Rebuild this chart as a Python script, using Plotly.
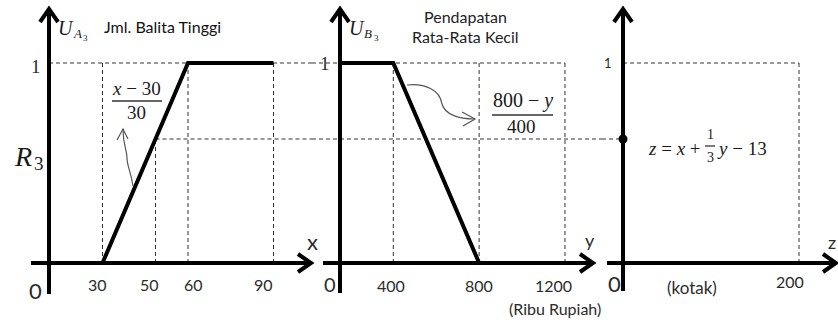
import plotly.graph_objects as go

W, H = 838, 320

# ---------------- data ----------------
A_X = [30, 60, 90]          # Jml. Balita Tinggi membership breakpoints
A_U = [0, 1, 1]
B_Y = [0, 400, 800]         # Pendapatan Rata-Rata Kecil breakpoints
B_U = [1, 1, 0]
R3 = 0.62                   # firing strength
X_GRID = [30, 60, 90]
Y_GRID = [400, 800, 1200]
Z_GRID = [200]
X_TICKS = [30, 50, 60, 90]
Y_TICKS = [400, 800, 1200]
Z_TICKS = [200]

# ---------------- geometry (pixels) ----------------
Y0_PX, Y1_PX = 263, 63
YS = Y0_PX - Y1_PX
Y_RANGE = [(Y0_PX - H) / YS, Y0_PX / YS]

PANELS = {
    "x":  dict(dom=(0, 312),   v0=30,  p0=102.5, s=2.85,   axis_px=49),
    "x2": dict(dom=(312, 602), v0=400, p0=393.3, s=0.2146, axis_px=340),
    "x3": dict(dom=(602, 838), v0=0,   p0=623,   s=0.88,   axis_px=623),
}


def to_data(key, px):
    p = PANELS[key]
    return p["v0"] + (px - p["p0"]) / p["s"]


for k, p in PANELS.items():
    p["range"] = [to_data(k, p["dom"][0]), to_data(k, p["dom"][1])]
    p["axis"] = to_data(k, p["axis_px"])

fig = go.Figure()

DASH = dict(color="#333", width=1, dash="4px,3px")
THICK = dict(color="black", width=4)


def add_line(xs, ys, xa, line):
    fig.add_trace(go.Scatter(x=xs, y=ys, mode="lines", line=line, xaxis=xa, yaxis="y",
                             hoverinfo="skip", showlegend=False))


# ---- panel 1 ----
p1 = PANELS["x"]
for xv in X_GRID:
    add_line([xv, xv], [0, 1], "x", DASH)
xr = A_X[0] + (A_X[1] - A_X[0]) * R3
add_line([xr, xr], [0, R3], "x", DASH)
add_line([p1["axis"], p1["range"][1]], [1, 1], "x", DASH)
add_line([xr, p1["range"][1]], [R3, R3], "x", DASH)
add_line(A_X, A_U, "x", THICK)

# ---- panel 2 ----
p2 = PANELS["x2"]
for yv in Y_GRID:
    add_line([yv, yv], [0, 1], "x2", DASH)
add_line([p2["range"][0], Y_GRID[-1]], [1, 1], "x2", DASH)
add_line([p2["range"][0], p2["range"][1]], [R3, R3], "x2", DASH)
add_line([max(v, p2["axis"]) for v in B_Y], B_U, "x2", THICK)

# ---- panel 3 ----
p3 = PANELS["x3"]
for zv in Z_GRID:
    add_line([zv, zv], [0, 1], "x3", DASH)
add_line([0, Z_GRID[-1]], [1, 1], "x3", DASH)
add_line([p3["range"][0], 0], [R3, R3], "x3", DASH)
fig.add_trace(go.Scatter(x=[0], y=[R3], mode="markers", marker=dict(color="black", size=9),
                         xaxis="x3", yaxis="y", hoverinfo="skip", showlegend=False))


# ---------------- decorations (pixel -> paper) ----------------
def PX(x):
    return x / W


def PY(y):
    return 1 - y / H


def pth(pts):
    return "M " + " L ".join(f"{PX(x):.5f},{PY(y):.5f}" for x, y in pts)


shapes = []


def sh_path(d, width=4, color="black"):
    shapes.append(dict(type="path", path=d, xref="paper", yref="paper",
                       line=dict(color=color, width=width), layer="above"))


# axes with open arrowheads
AXES = [
    dict(vx=49, vtop=9, vbot=294, hl=31, hr=311),
    dict(vx=340, vtop=9, vbot=293, hl=323, hr=593),
    dict(vx=623, vtop=9, vbot=291, hl=607, hr=836),
]
for a in AXES:
    sh_path(pth([(a["vx"], a["vbot"]), (a["vx"], a["vtop"])]))
    sh_path(pth([(a["vx"] - 9, a["vtop"] + 13), (a["vx"], a["vtop"]), (a["vx"] + 9, a["vtop"] + 13)]))
    sh_path(pth([(a["hl"], Y0_PX), (a["hr"], Y0_PX)]))
    sh_path(pth([(a["hr"] - 13, Y0_PX - 9), (a["hr"], Y0_PX), (a["hr"] - 13, Y0_PX + 9)]))

# fraction bars
for (x0, x1, y) in [(112, 162, 101), (492, 553, 115), (705, 715, 146)]:
    shapes.append(dict(type="line", xref="paper", yref="paper", x0=PX(x0), x1=PX(x1),
                       y0=PY(y), y1=PY(y), line=dict(color="#333", width=1.3)))


def c(x, y):
    return f"{PX(x):.5f},{PY(y):.5f}"


# curved hand arrows
sh_path(f"M {c(133, 186)} C {c(131, 172)} {c(127, 166)} {c(127, 158)} "
        f"C {c(127, 150)} {c(123, 145)} {c(123, 129)}", width=1.2, color="#555")
sh_path(pth([(117, 140), (123, 129), (128, 139)]), width=1.2, color="#555")
sh_path(f"M {c(407, 85)} C {c(425, 83)} {c(440, 90)} {c(442, 104)} "
        f"C {c(445, 115)} {c(460, 119)} {c(474, 119)}", width=1.2, color="#555")
sh_path(pth([(462, 112), (475, 119), (463, 126)]), width=1.2, color="#555")

fig.update_layout(shapes=shapes)

# ---------------- text ----------------
SANS = "Lato"
SERIF = "Liberation Serif"
TXT = "#2b2b2b"
MATH = "#1a1a1a"
ann = []


def t(x, y, text, size=15, family=SANS, color=TXT, xanchor="center", pad=1):
    ann.append(dict(x=PX(x), y=PY(y), xref="paper", yref="paper", text=text, showarrow=False,
                    xanchor=xanchor, yanchor="middle", borderpad=pad,
                    font=dict(size=size, family=family, color=color)))


def tick(xa, v, label, y_px, dx, size=16):
    ann.append(dict(x=v, y=(Y0_PX - y_px) / YS, xref=xa, yref="y", text=label, showarrow=False,
                    xshift=dx, xanchor="center", yanchor="middle",
                    font=dict(size=size, family=SANS, color=TXT)))


for v, dx in zip(X_TICKS, [-5, -10, 5, -10]):
    tick("x", v, str(v), 284, dx)
for v, dx in zip(Y_TICKS, [-2, 0, -11]):
    tick("x2", v, str(v), 285, dx)
for v, dx in zip(Z_TICKS, [-9]):
    tick("x3", v, str(v), 281, dx)

# origins
t(35, 290, "0", size=22)
t(330, 284, "0", size=20)
t(614, 283, "0", size=22)

# axis names
t(312, 241, "x", size=22)
t(590, 240, "y", size=18)
t(832, 242, "z", size=18)

# membership labels  (U with subscript A / B and sub-subscript 3)
for (ux, letter) in [(57, "A"), (348, "B")]:
    t(ux, 28, "<i>U</i>", size=20, family=SERIF, color=MATH, xanchor="left", pad=0)
    t(ux + 15, 34, f"<i>{letter}</i>", size=13, family=SERIF, color=MATH, xanchor="left", pad=0)
    t(ux + 25, 38, "3", size=9, family=SERIF, color=MATH, xanchor="left", pad=0)
t(162, 26, "Jml. Balita Tinggi", size=16, color="#111")
t(465, 17, "Pendapatan", size=16, color="#222")
t(465, 37, "Rata-Rata Kecil", size=16, color="#222")

# ones
t(36, 66, "1", size=19, family=SERIF)
t(325, 64, "1", size=19, family=SERIF)
t(608, 63, "1", size=13)

# R3
t(13, 156, "<i>R</i>", size=28, family=SERIF, color=MATH, xanchor="left", pad=0)
t(33, 163, "3", size=19, family=SERIF, color=MATH, xanchor="left", pad=0)

# fractions
t(136, 88, "<i>x</i> − 30", size=19, family=SERIF, color=MATH)
t(136, 112, "30", size=19, family=SERIF, color=MATH)
t(523, 100, "800 − <i>y</i>", size=20, family=SERIF, color=MATH)
t(521, 126, "400", size=19, family=SERIF, color=MATH)

# z formula
t(646, 148, "<i>z</i> = <i>x</i> +", size=19, family=SERIF, color=MATH, xanchor="left")
t(710, 134, "1", size=14, family=SERIF, color=MATH)
t(710, 157, "3", size=14, family=SERIF, color=MATH)
t(715, 148, "<i>y</i> − 13", size=19, family=SERIF, color=MATH, xanchor="left")

# units
t(555, 308, "(Ribu Rupiah)", size=16)
t(692, 287, "(kotak)", size=17)

fig.update_layout(annotations=ann)

# ---------------- axes layout ----------------
lay = dict(
    width=W, height=H, margin=dict(l=0, r=0, t=0, b=0),
    paper_bgcolor="white", plot_bgcolor="white", showlegend=False,
    yaxis=dict(domain=[0, 1], range=Y_RANGE, visible=False, fixedrange=True),
)
for k, p in PANELS.items():
    name = "xaxis" if k == "x" else "xaxis" + k[1:]
    lay[name] = dict(domain=[p["dom"][0] / W, p["dom"][1] / W], range=p["range"],
                     visible=False, anchor="y", fixedrange=True)
fig.update_layout(**lay)

fig.write_html("out.html", config={"displayModeBar": False},
               post_script="document.body.style.margin='0';document.body.style.overflow='hidden';")
